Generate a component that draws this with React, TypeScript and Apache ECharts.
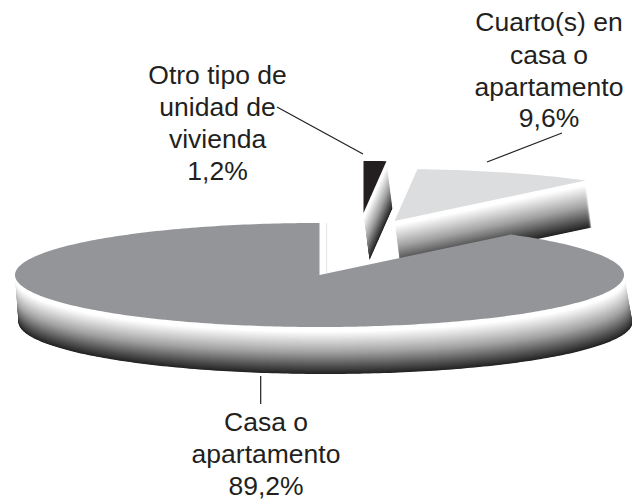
import React, { useEffect, useRef } from "react";
import * as echarts from "echarts";

const categories = ["Otro tipo de unidad de vivienda", "Cuarto(s) en casa o apartamento", "Casa o apartamento"];
const shares = [1.2, 9.6, 89.2];
const colors = ["#231f20", "#dcddde", "#939598"];
const explode = [[44, -62], [75, -54], [0, 0]];

const CX = 319.5, CY = 275, RX = 304.5, RY = 52, DEPTH = 47, SHIFT = 6, STEPS = 94;
const wallGrey = (t: number) => {
  const stops = [[0, 255], [0.1, 255], [0.55, 160], [1, 35]];
  for (let i = 1; i < stops.length; i++) {
    if (t <= stops[i][0]) {
      const f = (t - stops[i - 1][0]) / (stops[i][0] - stops[i - 1][0]);
      const g = Math.round(stops[i - 1][1] + f * (stops[i][1] - stops[i - 1][1]));
      return `rgb(${g},${g},${g})`;
    }
  }
  return "rgb(35,35,35)";
};

function renderSlice(params: any, api: any) {
  const i = params.dataIndex;
  const v = api.value(0) as number;
  let before = 0;
  for (let j = 0; j < i; j++) before += shares[j];
  const a0 = (before / 100) * Math.PI * 2;
  const a1 = ((before + v) / 100) * Math.PI * 2;
  const ox = CX + explode[i][0], oy = CY + explode[i][1];
  const isMain = v > 50;
  const arc = (from: number, to: number, dx: number, dy: number, grow = 0) => {
    const pts: number[][] = [];
    const n = Math.max(4, Math.ceil((to - from) * 60));
    for (let s = 0; s <= n; s++) {
      const a = from + ((to - from) * s) / n;
      pts.push([ox + dx + (RX + grow) * Math.sin(a), oy + dy - RY * Math.cos(a)]);
    }
    return pts;
  };
  const children: any[] = [];
  for (let k = STEPS; k >= 1; k--) {
    const t = k / STEPS;
    const dx = t * SHIFT;
    const dy = t * DEPTH;
    const points = isMain
      ? arc(Math.PI / 2, (Math.PI * 3) / 2, dx, dy, t * 2.5)
      : [[ox + dx, oy + dy], ...arc(a0, a1, dx, dy)];
    children.push({
      type: "polygon",
      shape: { points },
      style: { fill: wallGrey(t) },
      silent: true,
    });
  }
  children.push({
    type: "polygon",
    shape: { points: [[ox, oy], ...arc(a0, a1, 0, 0)] },
    style: { fill: colors[i] },
    silent: true,
  });
  return { type: "group", children };
}

const textStyle = (text: string, x: number, y: number) => ({
  type: "text",
  x,
  y,
  style: {
    text,
    fill: "#231f20",
    font: '26.5px "Liberation Sans", Arial, sans-serif',
    textAlign: "center",
    textVerticalAlign: "middle",
  },
  silent: true,
});

const line = (x1: number, y1: number, x2: number, y2: number, stroke = "#231f20") => ({
  type: "line",
  shape: { x1, y1, x2, y2 },
  style: { stroke, lineWidth: 1.2 },
  silent: true,
});

export default function App() {
  const ref = useRef<HTMLDivElement>(null);
  useEffect(() => {
    const chart = echarts.init(ref.current!, undefined, { renderer: "svg" });
    chart.setOption({
      animation: false,
      backgroundColor: "#fff",
      series: [
        {
          type: "custom",
          coordinateSystem: "none",
          clip: false,
          renderItem: renderSlice,
          data: shares.map((v, i) => ({ name: categories[i], value: [v] })),
        },
      ],
      graphic: [
        line(277, 107, 363, 154),
        line(487, 162, 562, 133),
        line(260.7, 376, 260.7, 404),
        line(326.5, 223, 326.5, 273, "#e6e7e8"),
        textStyle("Cuarto(s) en", 549, 22),
        textStyle("casa o", 549, 55),
        textStyle("apartamento", 549, 87),
        textStyle("9,6%", 549, 118),
        textStyle("Otro tipo de", 217.5, 75),
        textStyle("unidad de", 217.5, 107),
        textStyle("vivienda", 217.5, 139),
        textStyle("1,2%", 217.5, 171),
        textStyle("Casa o", 266, 422),
        textStyle("apartamento", 266, 454),
        textStyle("89,2%", 266, 485.5),
      ],
    });
    return () => chart.dispose();
  }, []);
  return <div ref={ref} style={{ position: "fixed", left: 0, top: 0, width: 632, height: 499 }} />;
}
